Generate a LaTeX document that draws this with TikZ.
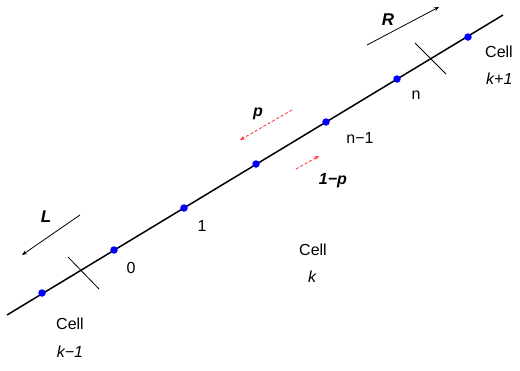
\documentclass[tikz,border=0pt]{standalone}
\usepackage{fontspec}
\setmainfont{Liberation Sans}
\usetikzlibrary{arrows.meta}
\begin{document}
\begin{tikzpicture}[x=1pt,y=-1pt,
  site/.style={circle,fill=blue,inner sep=0pt,minimum size=7.5pt},
  lbl/.style={font=\fontsize{16}{18}\selectfont,inner sep=1pt},
  blbl/.style={font=\fontsize{17}{19}\selectfont\bfseries\itshape,inner sep=1pt},
  dirarrow/.style={-{Stealth[length=5pt,width=4pt]},line width=0.8pt},
  hoparrow/.style={-{Stealth[length=5pt,width=4pt]},red!80,dash pattern=on 3pt off 2pt,line width=0.8pt},
  tick/.style={line width=0.8pt}]
\useasboundingbox (0,0) rectangle (520,370);
\coordinate (A) at (7,315);
\coordinate (B) at (503,15);
\draw[line width=1.5pt] (A) -- (B);
\node[site] (s1) at (42,293) {};
\node[site] (s2) at (114,250) {};
\node[site] (s3) at (184,208) {};
\node[site] (s4) at (256,164) {};
\node[site] (s5) at (326,122) {};
\node[site] (s6) at (397,79) {};
\node[site] (s7) at (468,37) {};
% cell boundaries
\coordinate (t1a) at (68,257); \coordinate (t1b) at (99,289);
\draw[tick] (t1a) -- (t1b);
\coordinate (t2a) at (415,43); \coordinate (t2b) at (446,74);
\draw[tick] (t2a) -- (t2b);
% labels
\node[lbl] (l0) at (131,268) {0};
\node[lbl] (l1) at (202,226) {1};
\node[lbl] (ln1) at (360,138) {n−1};
\node[lbl] (ln) at (416,95) {n};
\node[lbl] (c1) at (70,324) {Cell};
\node[lbl] (k1) at (70,352) {\itshape k−1};
\node[lbl] (c2) at (313,250) {Cell};
\node[lbl] (k2) at (312,277) {\itshape k};
\node[lbl,anchor=west] (c3) at (484,52) {Cell};
\node[lbl,anchor=west] (k3) at (485,79) {\itshape k+1};
% direction arrows
\coordinate (La) at (80,215); \coordinate (Lb) at (22,255);
\draw[dirarrow] (La) -- (Lb);
\node[blbl] (L) at (46,217) {L};
\coordinate (Ra) at (367,45); \coordinate (Rb) at (439,7);
\draw[dirarrow] (Ra) -- (Rb);
\node[blbl] (R) at (388,20) {R};
% hopping arrows
\coordinate (pa) at (292,110); \coordinate (pb) at (240,140);
\draw[hoparrow] (pa) -- (pb);
\node[blbl,font=\fontsize{16}{18}\selectfont\bfseries\itshape] (p) at (258,114) {p};
\coordinate (qa) at (296,169); \coordinate (qb) at (319,156);
\draw[hoparrow] (qa) -- (qb);
\node[blbl,font=\fontsize{16}{18}\selectfont\bfseries\itshape] (q) at (333,181) {1−p};
\end{tikzpicture}
\end{document}
